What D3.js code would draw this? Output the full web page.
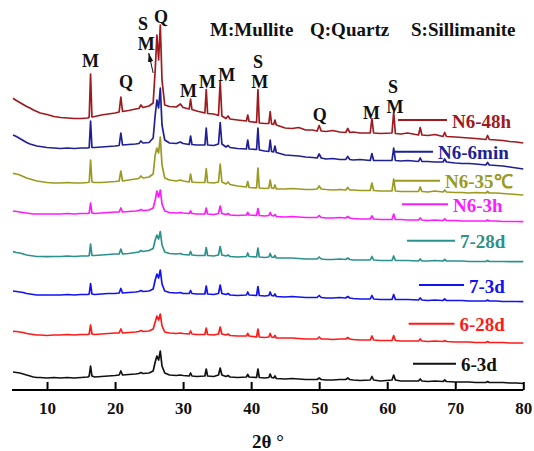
<!DOCTYPE html>
<html>
<head>
<meta charset="utf-8">
<script src="https://cdn.jsdelivr.net/npm/d3@7"></script>
<style>
  body { margin: 0; background: #fff; }
  svg { display: block; font-family: "Liberation Serif", "Times New Roman", serif; font-weight: bold; }
</style>
</head>
<body>
<script>
const width = 534,
  height = 451;

// 2-theta sampling positions shared by all patterns
const twoTheta = [
  5, 5.5, 6, 6.5, 7, 7.5, 8, 8.5, 9, 10, 11, 12, 13, 14, 15, 16,
  16.2, 16.4, 16.6, 17, 18, 19, 20,
  20.6, 20.85, 21.1, 22, 23, 23.5, 23.8, 24.1,
  25, 25.6, 25.9, 26.15, 26.4, 26.65, 26.9, 27.3,
  28, 29, 29.6, 30, 30.9, 31.1, 31.3, 32,
  33.2, 33.4, 33.6, 34.5, 35.2, 35.45, 35.7, 36.3, 36.6, 36.9,
  38, 39.3, 39.5, 39.7, 40.8, 41.0, 41.2,
  42, 42.6, 42.8, 43.0, 43.3, 43.5, 43.7,
  45, 46, 47, 48, 49, 49.7, 50.0, 50.3, 51, 52, 53,
  53.9, 54.2, 54.5, 55, 56, 57.5, 57.75, 58, 59,
  60.7, 60.95, 61.2, 62, 63, 64.6, 64.85, 65.1, 66, 67,
  68.2, 68.45, 68.7, 70, 71, 72, 73, 74.5, 74.75, 75, 76, 77, 78, 79, 80,
];

const seriesNames = ["6-3d", "6-28d", "7-3d", "7-28d", "N6-3h", "N6-35℃", "N6-6min", "N6-48h"];

// intensities (a.u., stacked with offsets)
const s6_3d = [
  18, 17.5, 17, 16, 15, 14, 13, 12.5, 12.5, 12, 12.5, 12, 12.5, 12, 12.5, 13,
  14, 24, 14, 13, 13.5, 14, 14.5,
  15, 19, 15, 15.5, 16, 16.5, 17.5, 16.5,
  17, 19, 28, 34, 30, 39, 24, 17,
  15, 14.5, 15, 14.5, 14, 17, 14, 13.5,
  14, 21, 14, 13.5, 15, 22, 15, 13.5, 14.5, 13,
  12.5, 13, 15.5, 13, 12.5, 21, 12.5,
  12, 12.5, 16, 12.5, 12, 14, 11.5,
  11, 11.5, 11, 10.5, 10.5, 10.5, 12, 10.5, 10, 10, 10.5,
  10.5, 12, 10.5, 10, 9.5, 10, 13.5, 10, 9,
  10, 15, 10, 9, 9, 9, 11, 9, 8.5, 9,
  8.5, 10, 8.5, 8, 8, 8, 7.5, 7.5, 8.5, 7.5, 7.5, 7.5, 7, 7, 6.5,
];
const s6_28d = [
  58.7, 58.5, 58, 57.5, 56.5, 56, 55.5, 55, 55, 54.5, 55, 55, 55.5, 55, 55.5, 55.5,
  56, 65, 56, 55.5, 56, 56.5, 57,
  57, 61, 57, 57.5, 58, 58.5, 59.5, 58.5,
  59, 61, 68, 74, 70, 76, 64, 58,
  57, 56.5, 57, 56.5, 56, 59, 56, 55.5,
  55.5, 62, 55.5, 55, 56, 63, 56, 55, 56, 54.5,
  54, 54, 56.5, 54, 53, 61, 53,
  52.5, 53, 56.5, 53, 52.5, 54.5, 52,
  52, 52, 51.5, 51, 51, 51, 53, 51, 51, 50.5, 51,
  51, 52.5, 51, 50.5, 50, 50, 54, 50, 49.5,
  49.5, 54.5, 49.5, 49, 49, 49, 51, 49, 48.5, 49,
  48.5, 49.5, 48.5, 48, 48, 48, 47.5, 47.5, 48.5, 47.5, 47.5, 47.5, 47, 47, 47,
];
const s7_3d = [
  99, 98.5, 98, 97.5, 96.5, 96, 95.5, 95, 95, 95, 95, 95, 95.5, 95, 95.5, 95.5,
  96, 106.5, 96, 95.5, 96, 96.5, 96.5,
  97, 101.5, 97, 97.5, 98, 98.5, 99.5, 98.5,
  99, 101, 110, 116, 112, 120, 106, 99,
  97.5, 97, 97.5, 96.5, 96.5, 99.5, 96.5, 96,
  96, 104, 96, 95.5, 96.5, 105, 96.5, 95.5, 96.5, 95,
  94.5, 95, 98, 95, 94.5, 103.5, 94.5,
  94, 94.5, 98, 94.5, 94, 96, 93.5,
  93, 93.5, 93, 92.5, 92.5, 92.5, 94.5, 92.5, 92, 92, 92.5,
  92, 93.5, 92, 91.5, 91, 91, 94.5, 91, 90.5,
  90.5, 95.5, 90.5, 90.5, 90.5, 90, 92, 90, 89.5, 90,
  89.5, 91, 89.5, 89.5, 89.5, 89, 89, 89, 90, 89, 89, 88.5, 88.5, 88.5, 88.3,
];
const s7_28d = [
  138.3, 137.5, 137, 136, 135, 134.5, 134, 133.5, 133.5, 133.3, 133.5, 133.5, 134, 133.5, 134, 134,
  134.5, 146, 134.5, 134.5, 135, 135.5, 136,
  136, 141, 136, 136.5, 137.5, 138, 139.5, 138.5,
  139.5, 141.5, 150, 155, 151, 158.5, 145, 138,
  136.5, 136, 136.5, 135.5, 135, 138.5, 135, 134.5,
  134.5, 142.5, 134.5, 134, 135, 143.5, 135, 134, 135, 133.5,
  133, 133.5, 137, 133.5, 133, 142, 133,
  132.5, 133, 136.5, 133, 132.5, 134.5, 132,
  132, 132, 131.5, 131, 131, 131, 133, 131, 130.5, 130.5, 131,
  130.5, 132, 130.5, 130, 130, 130, 133.5, 130, 129.5,
  129.5, 134, 129.5, 129.5, 129.5, 129, 131, 129, 129, 129.5,
  129, 130.5, 129, 129, 129, 128.5, 128.5, 128.5, 129.5, 128.5, 128.5, 128.5, 128.3, 128.3, 128.3,
];
const sN6_3h = [
  179, 178.5, 178, 177.5, 177, 176.5, 176, 176, 176, 176, 176, 176, 176.5, 176, 176.5, 176.5,
  177, 187, 177, 176.5, 177, 177.5, 178,
  178, 182, 178, 178.5, 179, 179.5, 180.5, 179.5,
  180, 182, 190, 199, 193, 200, 186, 179,
  177.5, 177, 177.5, 177, 176.5, 179, 176.5, 176,
  176, 182, 176, 175.5, 176.5, 184, 176.5, 175.5, 176.5, 175,
  174.5, 175, 177.5, 175, 174.5, 181.5, 174.5,
  174, 174.5, 177.5, 174.5, 174, 175.5, 173.5,
  173, 173.5, 173, 172.5, 172.5, 172.5, 174.5, 172.5, 172, 172, 172.5,
  172, 173.5, 172, 171.5, 171, 171, 174, 171, 170.5,
  170.5, 176, 170.5, 170.5, 170, 170, 172, 170, 169.5, 170,
  169.5, 171, 169.5, 169.5, 169, 169, 169, 169, 170, 169, 169, 168.5, 168.5, 168.5, 168.3,
];
const sN6_35C = [
  216.7, 216, 215, 213.5, 212, 211, 210, 209, 208.5, 207.5, 207, 207, 207.5, 207, 207, 207.5,
  208, 230, 208, 207.5, 207.5, 208, 208.5,
  209, 219, 209, 210, 211, 211.5, 214, 212,
  213, 216, 235, 242, 237, 253, 225, 212,
  210, 209, 210, 209, 208, 216, 208, 207.5,
  207.5, 221.5, 207.5, 207, 208, 226, 208, 206, 208, 205.5,
  204, 203, 208.5, 202.5, 202, 222, 202,
  201.5, 202, 210, 202, 201.5, 205, 201,
  201, 201.5, 201, 200.5, 200.5, 201, 204, 201, 200.5, 200, 200.5,
  200, 202.5, 200, 200, 199.5, 199.5, 207, 199.5, 199,
  199, 211, 199, 198.5, 198.5, 198.5, 203, 198.5, 198, 199,
  198, 200, 198, 197.5, 197.5, 197, 197.5, 197, 198.5, 197, 197, 196.5, 196, 195.5, 195,
];
const sN6_6min = [
  255, 253.5, 251.5, 249.5, 247.5, 246, 245, 244, 243.5, 242.5, 242, 241.5, 242, 241.5, 242, 242,
  242.5, 269, 242.5, 242.5, 243, 243.5, 244,
  244.5, 257, 245, 245.5, 246, 246.5, 249, 247,
  247.5, 252, 275, 290, 282, 302, 265, 250,
  247, 246.5, 248, 246.5, 245.5, 254, 245.5, 245,
  245, 262, 245, 244.5, 246, 267.5, 246, 243, 244.5, 242.5,
  241.5, 241, 250, 241, 240.5, 262, 240,
  239, 238.5, 250, 238.5, 238, 244, 237.5,
  235, 234.5, 234, 233, 232.5, 232, 236, 232, 231, 231.5, 230.5,
  230.5, 233.5, 230.5, 230, 230.5, 229.5, 236.5, 229.5, 229.5,
  229.5, 242, 229.5, 229, 229.5, 228.5, 232, 228.5, 228.5, 228,
  228, 231, 228, 227, 226.5, 226.5, 226, 225, 227.5, 225, 224.5, 224, 223, 222, 221,
];
const sN6_48h = [
  291.7, 289.5, 287.5, 285.5, 283.5, 282, 280, 278.5, 277, 275.5, 273.5, 272.5, 272, 271.5, 271.5, 272,
  273, 316, 273, 273.5, 275, 276, 277,
  278, 293, 278.5, 279.5, 281, 281.5, 285, 282.5,
  284, 287, 320, 355, 330, 365, 310, 285,
  283.5, 283, 286, 282.5, 281, 291, 280.5, 279,
  277, 300.5, 276.5, 276, 274.5, 309, 274, 271.5, 274, 271,
  270, 269, 275, 268.5, 267.5, 300.5, 267,
  266.5, 266.5, 278.5, 266, 265.5, 270, 265,
  262, 261.5, 262.5, 260, 260, 259, 264.5, 259, 258.5, 259.5, 258,
  257.5, 261.5, 257.5, 258, 257, 257, 271.5, 257, 256.5,
  257, 278, 256.5, 256, 257, 255, 262.5, 255, 254.5, 255.5,
  253.5, 257.5, 253.5, 253, 252.5, 252, 251.5, 250.5, 254.5, 250.5, 250, 249.5, 248.5, 248, 247,
];
const seriesValues = [s6_3d, s6_28d, s7_3d, s7_28d, sN6_3h, sN6_35C, sN6_6min, sN6_48h];

const xTicks = [10, 20, 30, 40, 50, 60, 70, 80];
const phaseKey = ["M:Mullite", "Q:Quartz", "S:Sillimanite"];

// peak labels: letter, 2-theta of label centre, intensity level of label baseline
const peakText = ["M", "Q", "S", "M", "Q", "M", "M", "M", "S", "M", "Q", "M", "S", "M"];
const peakTheta = [16.39, 21.6, 24.1, 24.6, 26.75, 30.8, 33.6, 36.4, 41.0, 41.26, 50.1, 57.7, 60.85, 61.14];
const peakLevel = [323, 302, 360, 340, 367, 293, 302, 309, 322, 302, 269, 271, 297, 277];

const colors = ["#111111", "#ff1a1a", "#1212f2", "#2b918c", "#ff1aff", "#9a9a1f", "#1f1f96", "#9e1a1e"];

// legend placement (pixels): line start, line end, line y
const legendPos = [
  [413, 456, 363.7],
  [408.6, 454.5, 323.8],
  [419, 464, 285],
  [407, 455, 240.7],
  [402, 448, 204.3],
  [393, 440, 180.7],
  [393, 433, 151.7],
  [398, 447, 120],
];

const x = d3.scaleLinear().domain([5, 80]).range([13, 523.3]);
const y = d3.scaleLinear().domain([0, 390]).range([390, 0]);

const svg = d3
  .select("body")
  .append("svg")
  .attr("width", width)
  .attr("height", height);

svg
  .append("defs")
  .append("marker")
  .attr("id", "arrow")
  .attr("viewBox", "0 0 10 6")
  .attr("refX", 10)
  .attr("refY", 3)
  .attr("markerWidth", 9)
  .attr("markerHeight", 5.5)
  .attr("markerUnits", "userSpaceOnUse")
  .attr("orient", "auto")
  .append("path")
  .attr("d", "M0,0 L10,3 L0,6 Z")
  .attr("fill", "#111");

const line = d3
  .line()
  .x((d, i) => x(twoTheta[i]))
  .y((d) => y(d));

// patterns, bottom first
svg
  .selectAll(".trace")
  .data(seriesValues)
  .enter()
  .append("path")
  .attr("class", "trace")
  .attr("d", line)
  .attr("fill", "none")
  .attr("stroke", (d, i) => colors[i])
  .attr("stroke-width", 1.7)
  .attr("stroke-linejoin", "round");

// legend
seriesNames.forEach((name, i) => {
  const [x0, x1, ly] = legendPos[i];
  svg
    .append("line")
    .attr("x1", x0)
    .attr("x2", x1)
    .attr("y1", ly)
    .attr("y2", ly)
    .attr("stroke", colors[i])
    .attr("stroke-width", 2);
  svg
    .append("text")
    .attr("x", x1 + 5)
    .attr("y", ly + 7.5)
    .attr("fill", colors[i])
    .attr("font-size", 19)
    .text(name);
});

// x axis with inward ticks
const xAxis = d3
  .axisBottom(x)
  .tickValues(xTicks)
  .tickSizeInner(-8)
  .tickSizeOuter(0)
  .tickPadding(12);

const gx = svg.append("g").attr("transform", `translate(0,${y(0)})`).call(xAxis);
gx.select(".domain").attr("d", `M12,0H${x(80)}`).attr("stroke", "#000").attr("stroke-width", 2);
gx.selectAll(".tick line").attr("stroke", "#000").attr("stroke-width", 2);
gx.selectAll(".tick text")
  .attr("fill", "#111")
  .attr("font-size", 17)
  .attr("font-family", '"Liberation Serif", "Times New Roman", serif')
  .attr("font-weight", "bold");

svg
  .append("text")
  .attr("x", 268)
  .attr("y", 448)
  .attr("text-anchor", "middle")
  .attr("font-size", 19)
  .attr("fill", "#111")
  .text("2θ °");

// phase key
const keyX = [210, 310, 411];
phaseKey.forEach((t, i) => {
  svg
    .append("text")
    .attr("x", keyX[i])
    .attr("y", 36)
    .attr("font-size", 19)
    .attr("fill", "#111")
    .text(t);
});

// peak labels
svg
  .selectAll(".peak")
  .data(peakText)
  .enter()
  .append("text")
  .attr("class", "peak")
  .attr("x", (d, i) => x(peakTheta[i]))
  .attr("y", (d, i) => y(peakLevel[i]))
  .attr("text-anchor", "middle")
  .attr("font-size", 18)
  .attr("fill", "#111")
  .text((d) => d);

// arrow from the 26.2 peak to its S/M label
svg
  .append("line")
  .attr("x1", x(25.6))
  .attr("y1", y(317))
  .attr("x2", x(24.95))
  .attr("y2", y(337))
  .attr("stroke", "#111")
  .attr("stroke-width", 1)
  .attr("marker-end", "url(#arrow)");
</script>
</body>
</html>
